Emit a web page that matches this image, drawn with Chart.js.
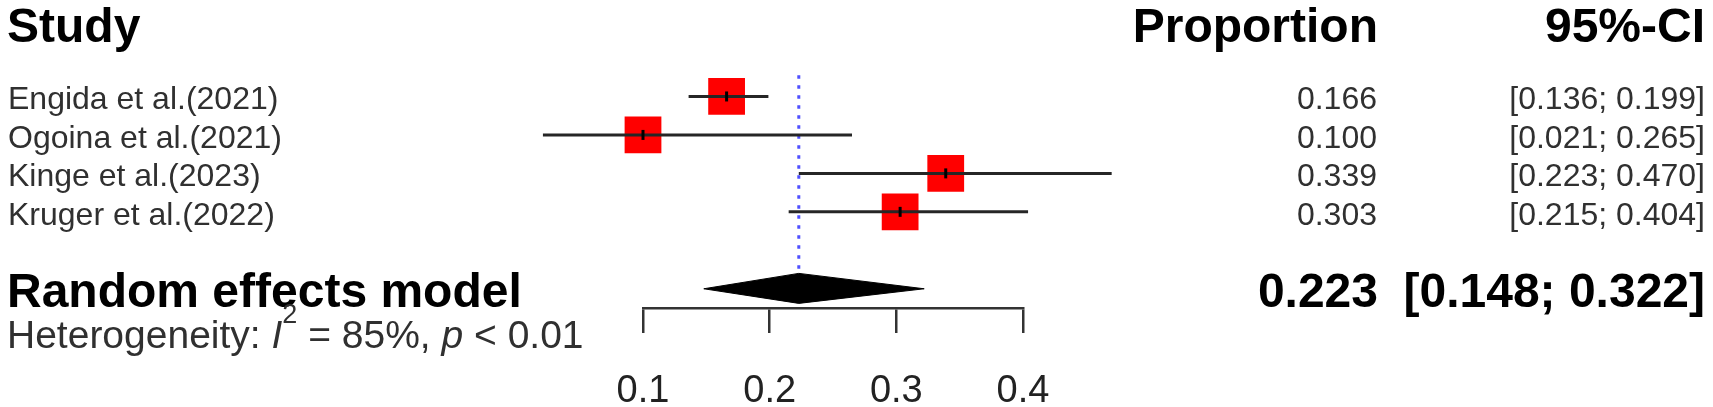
<!DOCTYPE html>
<html>
<head>
<meta charset="utf-8">
<title>Forest plot</title>
<script src="https://cdn.jsdelivr.net/npm/chart.js@4.4.1/dist/chart.umd.min.js"></script>
<style>
  body { margin: 0; background: #fff; }
  #wrap { width: 1713px; height: 407px; }
</style>
</head>
<body>
<div id="wrap"><canvas id="forest" width="1713" height="407"></canvas></div>
<script>
// values
const studies = ['Engida et al.(2021)', 'Ogoina et al.(2021)', 'Kinge et al.(2023)', 'Kruger et al.(2022)'];
const proportion = [0.166, 0.100, 0.339, 0.303];
const ciLower = [0.136, 0.021, 0.223, 0.215];
const ciUpper = [0.199, 0.265, 0.470, 0.404];
const pooled = 0.223;
const pooledLower = 0.148;
const pooledUpper = 0.322;
const i2 = 85;
const pText = '< 0.01';
const xTicks = [0.1, 0.2, 0.3, 0.4];

const FONT = "'Liberation Sans', Arial, Helvetica, sans-serif";
const summaryRow = studies.length + 2;

// one dataset per confidence interval
var ciSets = studies.map(function (s, i) {
  return {
    data: [{x: ciLower[i], y: i + 1}, {x: ciUpper[i], y: i + 1}],
    showLine: true, borderColor: '#262626', borderWidth: 3,
    pointRadius: 0, clip: false, order: 3
  };
});

var datasets = [
  {
    // small black mark at each estimate
    data: proportion.map(function (v, i) { return {x: v, y: i + 1}; }),
    pointStyle: 'line', rotation: 90, pointRadius: 5,
    borderColor: '#000', borderWidth: 3, clip: false, order: 1
  },
  {
    // pooled diamond
    data: [
      {x: pooledLower, y: summaryRow}, {x: pooled, y: summaryRow - 0.4},
      {x: pooledUpper, y: summaryRow}, {x: pooled, y: summaryRow + 0.38},
      {x: pooledLower, y: summaryRow}
    ],
    showLine: true, fill: 'shape', backgroundColor: '#000', borderColor: '#000',
    borderWidth: 1, pointRadius: 0, tension: 0, clip: false, order: 2
  }
].concat(ciSets).concat([
  {
    // reference line at the pooled estimate
    data: [{x: pooled, y: 0.45}, {x: pooled, y: summaryRow - 0.4}],
    showLine: true, borderColor: '#4f4fff', borderWidth: 3, borderDash: [3.5, 6.5],
    pointRadius: 0, clip: false, order: 4
  },
  {
    // study squares
    data: proportion.map(function (v, i) { return {x: v, y: i + 1}; }),
    pointStyle: 'rect', pointRadius: 26, backgroundColor: '#ff0000',
    borderWidth: 0, clip: false, order: 5
  }
]);

const textPlugin = {
  id: 'forestText',
  afterDraw: function (chart) {
    const ctx = chart.ctx;
    const ys = chart.scales.y;
    ctx.save();
    ctx.textBaseline = 'alphabetic';

    // column headers
    ctx.fillStyle = '#000';
    ctx.font = 'bold 48px ' + FONT;
    ctx.textAlign = 'left';
    ctx.fillText('Study', 7, 42);
    ctx.textAlign = 'right';
    ctx.fillText('Proportion', 1378, 42);
    ctx.fillText('95%-CI', 1705, 42);

    // study rows
    ctx.font = '32px ' + FONT;
    ctx.fillStyle = '#303030';
    studies.forEach(function (name, i) {
      var py = ys.getPixelForValue(i + 1) + 13;
      ctx.textAlign = 'left';
      ctx.fillText(name, 8, py);
      ctx.textAlign = 'right';
      ctx.fillText(proportion[i].toFixed(3), 1377, py);
      ctx.fillText('[' + ciLower[i].toFixed(3) + '; ' + ciUpper[i].toFixed(3) + ']', 1705, py);
    });

    // pooled row
    var sy = ys.getPixelForValue(summaryRow) + 18;
    ctx.fillStyle = '#000';
    ctx.font = 'bold 48px ' + FONT;
    ctx.textAlign = 'left';
    ctx.fillText('Random effects model', 7, sy);
    ctx.textAlign = 'right';
    ctx.fillText(pooled.toFixed(3), 1378, sy);
    ctx.fillText('[' + pooledLower.toFixed(3) + '; ' + pooledUpper.toFixed(3) + ']', 1705, sy);

    // heterogeneity line, drawn piece by piece
    var hy = sy + 41;
    var hx = 7;
    ctx.textAlign = 'left';
    ctx.fillStyle = '#303030';
    var parts = [
      ['Heterogeneity: ', '39px ', 0],
      ['I', 'italic 39px ', 0],
      ['2', '27px ', -25],
      [' = ' + i2 + '%, ', '39px ', 0],
      ['p', 'italic 39px ', 0],
      [' ' + pText, '39px ', 0]
    ];
    parts.forEach(function (p) {
      ctx.font = p[1] + FONT;
      ctx.fillText(p[0], hx, hy + p[2]);
      hx += ctx.measureText(p[0]).width;
    });
    ctx.restore();
  }
};

new Chart(document.getElementById('forest'), {
  type: 'scatter',
  data: {datasets: datasets},
  options: {
    responsive: false,
    devicePixelRatio: 1,
    animation: false,
    layout: {padding: {left: 643, right: 690, top: 58, bottom: 0}},
    plugins: {legend: {display: false}, tooltip: {enabled: false}},
    scales: {
      x: {
        type: 'linear', min: 0.1, max: 0.4,
        afterBuildTicks: function (s) { s.ticks = xTicks.map(function (v) { return {value: v}; }); },
        afterFit: function (s) { s.height = 99; },
        ticks: {
          autoSkip: false, maxRotation: 0, padding: 36, color: '#222',
          font: {family: FONT, size: 38},
          callback: function (v) { return v.toFixed(1); }
        },
        grid: {drawOnChartArea: false, drawTicks: true, tickLength: 25, color: '#333', lineWidth: 2.5},
        border: {display: true, color: '#333', width: 2.5}
      },
      y: {
        type: 'linear', display: false, reverse: true, min: 0, max: summaryRow + 0.5
      }
    }
  },
  plugins: [textPlugin]
});
</script>
</body>
</html>
